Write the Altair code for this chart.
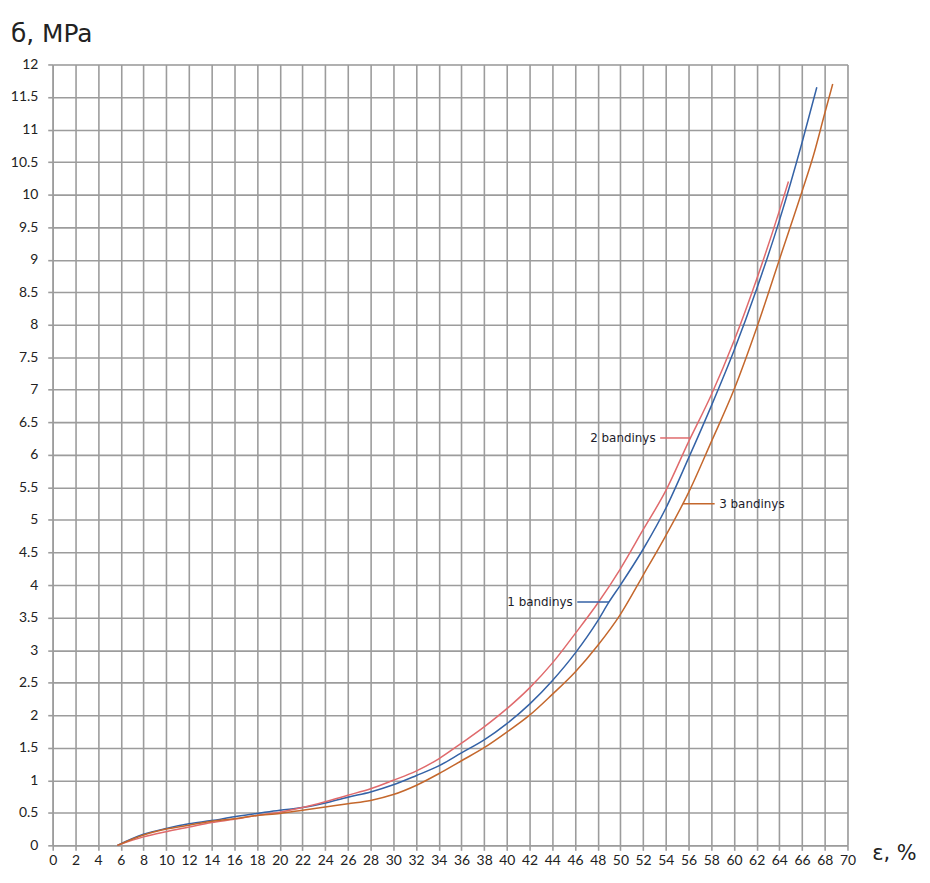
import altair as alt
import pandas as pd

# ---- data ----
series_names = ["1 bandinys", "2 bandinys", "3 bandinys"]
series_colors = ["#3462a6", "#e06a6c", "#c4672c"]

x1 = [5.7, 8, 10, 12, 14, 16, 18, 20, 22, 24, 26, 28, 30, 32, 34, 36, 38, 40, 42, 44, 46, 48, 49,
      50, 52, 54, 56, 58, 60, 62, 64, 66, 67.3]
y1 = [0, 0.17, 0.26, 0.33, 0.38, 0.44, 0.49, 0.54, 0.58, 0.65, 0.74, 0.82, 0.93, 1.07, 1.22, 1.42,
      1.62, 1.87, 2.17, 2.53, 2.95, 3.45, 3.74, 4.0, 4.55, 5.18, 5.95, 6.75, 7.6, 8.55, 9.6, 10.8, 11.65]

x2 = [5.7, 8, 10, 12, 14, 16, 18, 20, 22, 24, 26, 28, 30, 32, 34, 36, 38, 40, 42, 44, 46, 48,
      50, 52, 54, 56, 58, 60, 62, 64, 64.8]
y2 = [0, 0.13, 0.21, 0.28, 0.35, 0.40, 0.46, 0.51, 0.58, 0.67, 0.77, 0.87, 1.0, 1.14, 1.33, 1.57,
      1.82, 2.1, 2.42, 2.8, 3.25, 3.72, 4.25, 4.85, 5.45, 6.2, 6.92, 7.75, 8.7, 9.75, 10.2]

x3 = [5.7, 8, 10, 12, 14, 16, 18, 20, 22, 24, 26, 28, 30, 32, 34, 36, 38, 40, 42, 44, 46, 48,
      50, 52, 54, 56, 58, 60, 62, 64, 66, 67, 68, 68.7]
y3 = [0, 0.16, 0.25, 0.31, 0.37, 0.41, 0.46, 0.49, 0.54, 0.59, 0.64, 0.69, 0.78, 0.92, 1.1, 1.3,
      1.5, 1.74, 2.0, 2.32, 2.66, 3.07, 3.55, 4.15, 4.76, 5.42, 6.2, 7.0, 7.95, 9.0, 10.05, 10.6,
      11.25, 11.7]

# annotation labels
label_text = ["1 bandinys", "2 bandinys", "3 bandinys"]
leader_x1 = [46.2, 53.5, 55.5]
leader_x2 = [49.0, 56.2, 58.3]
leader_y = [3.74, 6.26, 5.25]
text_x = [45.8, 53.1, 58.7]
text_side = ["right", "right", "left"]

x_ticks = list(range(0, 71, 2))
y_ticks = [i * 0.5 for i in range(0, 25)]

rows = []
for name, xs, ys in zip(series_names, [x1, x2, x3], [y1, y2, y3]):
    for i, (a, b) in enumerate(zip(xs, ys)):
        rows.append({"series": name, "eps": a, "sigma": b, "order": i})
df = pd.DataFrame(rows)

ann = pd.DataFrame({
    "series": series_names,
    "label": label_text,
    "lx1": leader_x1,
    "lx2": leader_x2,
    "ly": leader_y,
    "tx": text_x,
    "side": text_side,
})

grid_c = "#9c9c9c"
x_scale = alt.Scale(domain=[0, 70], nice=False, zero=False)
y_scale = alt.Scale(domain=[0, 12], nice=False, zero=False)
color = alt.Color("series:N", scale=alt.Scale(domain=series_names, range=series_colors), legend=None)

x_axis = alt.Axis(values=x_ticks, grid=True, gridColor=grid_c, gridWidth=1.6, domainColor=grid_c,
                  domainWidth=1.6, tickColor=grid_c, tickWidth=1.6, tickSize=5, labelFont="Lato",
                  labelFontSize=14, labelColor="#222222", labelPadding=3, labelFlush=False,
                  labelOverlap=False, title=None)
y_axis = alt.Axis(values=y_ticks, grid=True, gridColor=grid_c, gridWidth=1.6, domainColor=grid_c,
                  domainWidth=1.6, tickColor=grid_c, tickWidth=1.6, tickSize=5, labelFont="Lato",
                  labelFontSize=14, labelColor="#222222", labelPadding=10, labelFlush=False,
                  labelOverlap=False, format="~g", title=None)

lines = alt.Chart(df).mark_line(strokeWidth=1.5, interpolate="monotone").encode(
    x=alt.X("eps:Q", scale=x_scale, axis=x_axis),
    y=alt.Y("sigma:Q", scale=y_scale, axis=y_axis),
    color=color,
    order="order:Q",
    detail="series:N",
)

leaders = alt.Chart(ann).mark_rule(strokeWidth=1.5).encode(
    x=alt.X("lx1:Q", scale=x_scale, axis=x_axis),
    x2="lx2:Q",
    y=alt.Y("ly:Q", scale=y_scale, axis=y_axis),
    color=color,
)

text_right = alt.Chart(ann).transform_filter(alt.datum.side == "right").mark_text(
    align="right", baseline="middle", font="DejaVu Sans", fontSize=12, color="#1c1c2a"
).encode(
    x=alt.X("tx:Q", scale=x_scale, axis=x_axis),
    y=alt.Y("ly:Q", scale=y_scale, axis=y_axis),
    text="label:N",
)

text_left = alt.Chart(ann).transform_filter(alt.datum.side == "left").mark_text(
    align="left", baseline="middle", font="DejaVu Sans", fontSize=12, color="#1c1c2a"
).encode(
    x=alt.X("tx:Q", scale=x_scale, axis=x_axis),
    y=alt.Y("ly:Q", scale=y_scale, axis=y_axis),
    text="label:N",
)

y_title = alt.Chart(pd.DataFrame({"t": ["б, MPa"]})).mark_text(
    align="left", baseline="alphabetic", font="DejaVu Sans", fontSize=25, color="#222222"
).encode(x=alt.value(-42), y=alt.value(-23), text="t:N")

x_title = alt.Chart(pd.DataFrame({"t": ["ε, %"]})).mark_text(
    align="left", baseline="alphabetic", font="DejaVu Sans", fontSize=21, color="#222222"
).encode(x=alt.value(825), y=alt.value(801), text="t:N")

chart = alt.layer(lines, leaders, text_right, text_left, y_title, x_title).properties(
    width=800,
    height=786,
    autosize=alt.AutoSizeParams(type="none"),
    padding={"left": 45, "top": 54, "right": 75, "bottom": 22},
).configure_view(stroke=None).configure(background="white")

chart.save("out.html", embed_options={"renderer": "svg", "actions": False})
